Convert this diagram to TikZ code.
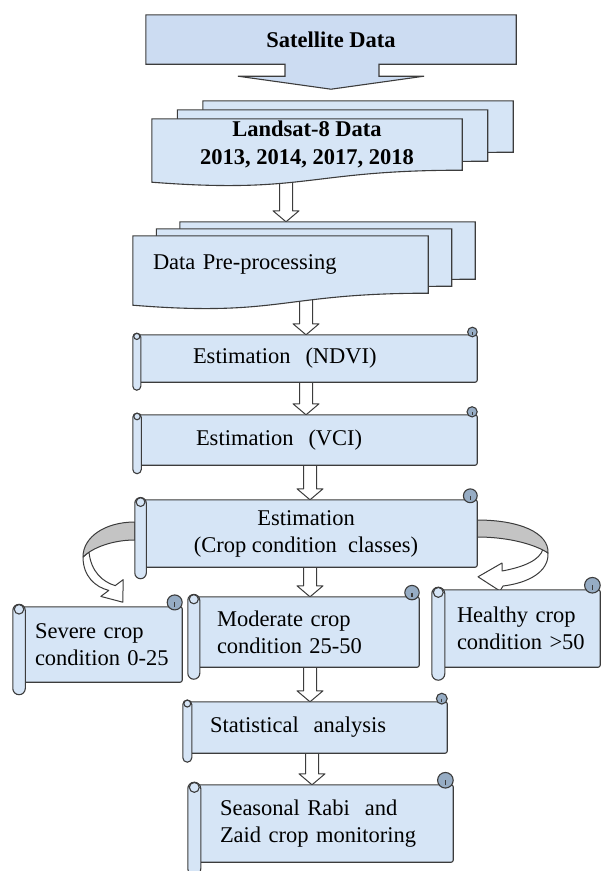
\documentclass[tikz,border=0pt]{standalone}
\usepackage{fontspec}
\setmainfont{Liberation Serif}
\definecolor{boxblue}{RGB}{214,229,246}
\definecolor{satblue}{RGB}{204,220,242}
\definecolor{curlgray}{RGB}{150,172,196}
\definecolor{edgegray}{RGB}{60,60,60}
\definecolor{bandgray}{RGB}{196,196,196}

\pgfdeclarelayer{arrows}
\pgfdeclarelayer{shapes}
\pgfsetlayers{arrows,shapes,main}

% scroll drawn round a node: #1 node, #2 roll size
\newcommand{\scrollshape}[2]{%
  \begin{pgfonlayer}{shapes}
    \draw[boxline, fill=boxblue, rounded corners=2pt] ([xshift=#2*0.5]#1.north west) rectangle (#1.south east);
    \draw[boxline, fill=curlgray] ([xshift=-#2*0.6, yshift=#2*0.35]#1.north east) circle[radius=#2*0.6];
    \draw[boxline] ([xshift=-#2*0.6, yshift=#2*0.35]#1.north east) -- ([xshift=-#2*0.6]#1.north east);
    \draw[boxline, fill=boxblue, rounded corners=#2*0.5] ([yshift=#2*0.2]#1.north west) rectangle ([xshift=#2, yshift=-#2]#1.south west);
    \draw[boxline, fill=boxblue] ([xshift=#2*0.5, yshift=-#2*0.2]#1.north west) circle[radius=#2*0.38];
  \end{pgfonlayer}}

% three sheets with a wavy bottom: #1 node, #2 dx, #3 dy
\newcommand{\docstack}[3]{%
  \begin{pgfonlayer}{shapes}
    \foreach \k in {2,1,0}{%
      \draw[boxline, fill=boxblue] ([xshift=\k*#2, yshift=\k*#3]#1.north west) -- ([xshift=\k*#2, yshift=\k*#3]#1.north east)
        -- ([xshift=\k*#2, yshift=\k*#3]#1.south east)
        .. controls ([xshift=\k*#2, yshift=\k*#3]#1.south) and ([xshift=\k*#2, yshift=\k*#3-24]#1.south)
        .. ([xshift=\k*#2, yshift=\k*#3-12]#1.south west) -- cycle;
    }
  \end{pgfonlayer}
  \coordinate (#1-back) at ([xshift=2*#2, yshift=2*#3]#1.north);}

% hollow block arrow: #1 x, #2 start point, #3 end point
\newcommand{\blockarrow}[3]{%
  \begin{pgfonlayer}{arrows}
    \coordinate (s) at (#2-|#1,0);
    \coordinate (e) at (#3-|#1,0);
    \draw[arrowline] ([xshift=-6.5pt]s) -- ([xshift=-6.5pt, yshift=11pt]e) -- ([xshift=-13pt, yshift=11pt]e) -- (e)
      -- ([xshift=13pt, yshift=11pt]e) -- ([xshift=6.5pt, yshift=11pt]e) -- ([xshift=6.5pt]s) -- cycle;
  \end{pgfonlayer}}

\begin{document}
\begin{tikzpicture}[x=1pt, y=-1pt,
    boxline/.style={draw=edgegray, line width=1.1pt},
    arrowline/.style={draw=edgegray, line width=1pt, fill=white, line join=round},
    every node/.style={font=\fontsize{22.5}{27}\selectfont, inner sep=0pt},
    boldtext/.style={font=\fontsize{22.5}{28}\selectfont\bfseries},
    body/.style 2 args={minimum width=#1, minimum height=#2, align=center},
    lefttext/.style 2 args={text width=#1, inner xsep=#2, align=left}]
    \useasboundingbox (0,0) rectangle (603,871);

    % Satellite data callout
    \node[body={370pt}{49pt}, boldtext] (sat) at (331,39.5) {Satellite Data};
    \begin{pgfonlayer}{shapes}
      \draw[boxline, fill=satblue] (sat.north west) -- (sat.north east) -- (sat.south east)
        -- ([xshift=48pt]sat.south) -- ([xshift=48pt, yshift=-12pt]sat.south) -- ([xshift=93pt, yshift=-12pt]sat.south)
        -- ([yshift=-25pt]sat.south) -- ([xshift=-93pt, yshift=-12pt]sat.south) -- ([xshift=-46pt, yshift=-12pt]sat.south)
        -- ([xshift=-46pt]sat.south) -- (sat.south west) -- cycle;
    \end{pgfonlayer}

    % Landsat and pre-processing
    \node[body={310pt}{51pt}, boldtext] (landsat) at (307,144.5) {Landsat-8 Data\\2013, 2014, 2017, 2018};
    \docstack{landsat}{25.5}{9}
    \node[body={295pt}{57pt}, lefttext={255pt}{20pt}] (prep) at (280.5,264.5) {Data Pre-processing};
    \docstack{prep}{23.5}{7}

    % Estimation steps
    \node[body={344pt}{47pt}, lefttext={224pt}{60pt}] (ndvi) at (305,358.5) {Estimation\ \ (NDVI)};
    \scrollshape{ndvi}{8}
    \node[body={344pt}{50pt}, lefttext={218pt}{63pt}] (vci) at (305,440) {Estimation\ \ (VCI)};
    \scrollshape{vci}{8.5}
    \node[body={342pt}{67pt}] (crop) at (306,533.5) {Estimation\\(Crop condition\ \ classes)};
    \scrollshape{crop}{11.5}

    % Crop condition classes
    \node[body={169pt}{75pt}, lefttext={125pt}{22pt}] (severe) at (97.5,644.5) {\mbox{Severe crop}\\\mbox{condition 0-25}};
    \scrollshape{severe}{12.5}
    \node[body={231pt}{70pt}, lefttext={173pt}{29pt}] (moderate) at (303.5,632) {\mbox{Moderate crop}\\\mbox{condition 25-50}};
    \scrollshape{moderate}{12}
    \node[body={168pt}{77pt}, lefttext={118pt}{25pt}] (healthy) at (516,628.5) {\mbox{Healthy crop}\\\mbox{condition >50}};
    \scrollshape{healthy}{13}

    % Analysis and monitoring
    \node[body={264pt}{51pt}, lefttext={210pt}{27pt}] (stat) at (315,727.5) {Statistical\ \ analysis};
    \scrollshape{stat}{9}
    \node[body={265pt}{77pt}, lefttext={201pt}{32pt}] (seasonal) at (320.5,823.5) {\mbox{Seasonal Rabi\ \ and}\\\mbox{Zaid crop monitoring}};
    \scrollshape{seasonal}{13}

    % Block arrows
    \blockarrow{286}{landsat.south}{prep-back}
    \blockarrow{306}{prep.south}{ndvi.north}
    \blockarrow{306}{ndvi.south}{vci.north}
    \blockarrow{310}{vci.south}{crop.north}
    \blockarrow{310}{crop.south}{moderate.north}
    \blockarrow{310}{moderate.south}{stat.north}
    \blockarrow{312}{stat.south}{seasonal.north}

    % Curved arrows to the side classes
    \begin{pgfonlayer}{arrows}
      \draw[arrowline] (83,557) .. controls (83,576) and (95,587) .. (108.8,590.4) -- (100.8,596.4)
        -- ([xshift=25.3pt, yshift=4.6pt]severe.north) -- (123.2,579.6) -- (115.2,585.6)
        .. controls (103,582) and (91,572) .. (89,552) -- cycle;
      \draw[arrowline, fill=bandgray] ([yshift=11.5pt]crop.west) .. controls (105,522) and (83,537) .. (83,557)
        .. controls (92,548) and (112,540) .. ([yshift=-6.5pt]crop.west) -- cycle;
      \draw[arrowline] (548,553) .. controls (549,572) and (528,583) .. (503,586) -- (500,591)
        -- ([xshift=-38pt, yshift=13pt]healthy.north) -- (502,563) -- (502,571)
        .. controls (524,567) and (540,560) .. (543,549) -- cycle;
      \draw[arrowline, fill=bandgray] ([yshift=13.5pt]crop.east) .. controls (520,520) and (549,533) .. (548,553)
        .. controls (536,545) and (510,537) .. ([yshift=-3.5pt]crop.east) -- cycle;
    \end{pgfonlayer}
\end{tikzpicture}
\end{document}
